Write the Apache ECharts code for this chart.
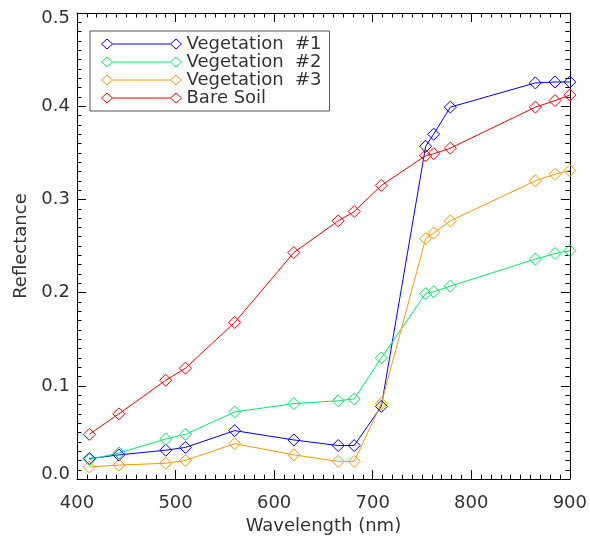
<!DOCTYPE html>
<html>
<head>
<meta charset="utf-8">
<title>Reflectance spectra</title>
<script src="https://cdn.jsdelivr.net/npm/echarts@6/dist/echarts.min.js"></script>
<style>
html,body{margin:0;padding:0;background:#fff;}
#main{width:590px;height:540px;}
</style>
</head>
<body>
<div id="main"></div>
<script>
// MERIS band centres (nm)
var wavelengths = [412.5, 442.5, 490, 510, 560, 620, 665, 681.25, 708.75, 753.75, 761.875, 778.75, 865, 885, 900];

var veg1 = [0.022, 0.026, 0.031, 0.034, 0.052, 0.042, 0.036, 0.036, 0.078, 0.357, 0.370, 0.399, 0.425, 0.426, 0.426];
var veg2 = [0.021, 0.028, 0.043, 0.048, 0.072, 0.081, 0.084, 0.086, 0.130, 0.199, 0.201, 0.207, 0.236, 0.242, 0.245];
var veg3 = [0.013, 0.015, 0.017, 0.020, 0.038, 0.026, 0.019, 0.019, 0.081, 0.258, 0.264, 0.277, 0.320, 0.327, 0.331];
var soil = [0.048, 0.070, 0.106, 0.119, 0.168, 0.243, 0.277, 0.287, 0.315, 0.347, 0.349, 0.355, 0.399, 0.406, 0.412];

var seriesNames = ['Vegetation  #1', 'Vegetation  #2', 'Vegetation  #3', 'Bare Soil'];
var seriesValues = [veg1, veg2, veg3, soil];
var seriesColors = ['#0000ff', '#00ee66', '#ff9900', '#ff0000'];

var fontFam = 'DejaVu Sans';
var fontSz = 18;
var txtColor = '#333';
// legend icon: diamond - line - diamond
var legendIcon = 'path://M0,5L5.5,0L11,5L5.5,10Z M11,5L69,5 M69,5L74.5,0L80,5L74.5,10Z';

function pairs(xs, ys){
	var out = [];
	for (var i = 0; i < xs.length; i++) out.push([xs[i], ys[i]]);
	return out;
}

function makeAxis(pos, isX){
	var ax = {
		type:'value',
		position:pos,
		min: isX ? 400 : 0,
		max: isX ? 900 : 0.5,
		interval: isX ? 100 : 0.1,
		axisLine:{show:true, onZero:false, lineStyle:{color:'#000', width:1}},
		axisTick:{show:true, inside:true, length:9, lineStyle:{color:'#000', width:1}},
		minorTick:{show:true, splitNumber:10, length:4.5, lineStyle:{color:'#000', width:1}},
		splitLine:{show:false},
		axisLabel:{show:false}
	};
	return ax;
}

var xBottom = makeAxis('bottom', true);
xBottom.axisLabel = {show:true, margin:15, color:txtColor, fontSize:fontSz, fontFamily:fontFam};
xBottom.name = 'Wavelength (nm)';
xBottom.nameLocation = 'middle';
xBottom.nameGap = 34;
xBottom.nameTextStyle = {color:txtColor, fontSize:fontSz, fontFamily:fontFam};
var xTop = makeAxis('top', true);

var yLeft = makeAxis('left', false);
yLeft.axisLabel = {show:true, margin:7, color:txtColor, fontSize:fontSz, fontFamily:fontFam,
	formatter:function(v){
		var s = v.toFixed(1);
		// end labels sit inside the frame
		if (v >= 0.5) return '{hi|' + s + '}';
		if (v <= 0) return '{lo|' + s + '}';
		return s;
	},
	rich:{
		hi:{padding:[11, 0, 0, 0], color:txtColor, fontSize:fontSz, fontFamily:fontFam},
		lo:{padding:[0, 0, 9, 0], color:txtColor, fontSize:fontSz, fontFamily:fontFam}
	}};
yLeft.name = 'Reflectance';
yLeft.nameLocation = 'middle';
yLeft.nameGap = 47;
yLeft.nameTextStyle = {color:txtColor, fontSize:fontSz, fontFamily:fontFam};
var yRight = makeAxis('right', false);

var series = [];
var legendData = [];
for (var i = 0; i < seriesNames.length; i++) {
	series.push({
		name:seriesNames[i],
		type:'line',
		xAxisIndex:0,
		yAxisIndex:0,
		data:pairs(wavelengths, seriesValues[i]),
		symbol:'diamond',
		symbolSize:12,
		showAllSymbol:true,
		clip:false,
		lineStyle:{color:seriesColors[i], width:1},
		itemStyle:{color:'transparent', borderColor:seriesColors[i], borderWidth:1},
		emphasis:{disabled:true}
	});
	legendData.push({
		name:seriesNames[i],
		icon:legendIcon,
		itemStyle:{color:'transparent', borderColor:seriesColors[i], borderWidth:1}
	});
}

var chart = echarts.init(document.getElementById('main'));
chart.setOption({
	animation:false,
	backgroundColor:'#fff',
	grid:{left:77, right:17, top:13, bottom:58},
	legend:{
		show:true,
		orient:'vertical',
		left:90,
		top:31,
		padding:[4, 8, 4, 11],
		itemWidth:80,
		itemHeight:10,
		itemGap:0,
		borderColor:'#555',
		borderWidth:1,
		selectedMode:false,
		textStyle:{color:txtColor, fontSize:fontSz, lineHeight:18, fontFamily:fontFam},
		data:legendData
	},
	xAxis:[xBottom, xTop],
	yAxis:[yLeft, yRight],
	series:series
});
</script>
</body>
</html>
